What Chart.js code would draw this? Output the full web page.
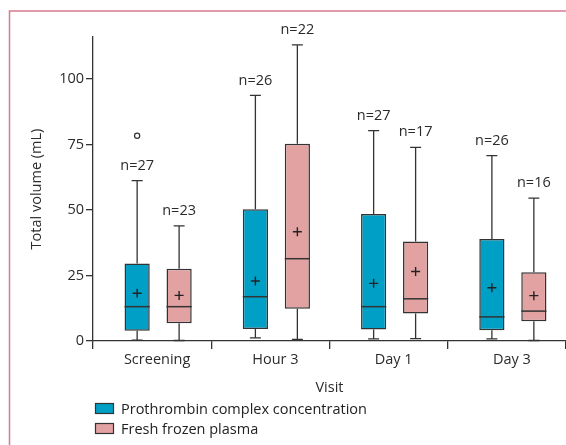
<!DOCTYPE html>
<html><head><meta charset="utf-8">
<script src="https://cdn.jsdelivr.net/npm/chart.js@4.4.1/dist/chart.umd.min.js"></script>
<style>html,body{margin:0;padding:0;background:#fff;}#wrap{width:566px;height:445px;position:relative;}</style>
</head><body><div id="wrap"><canvas id="c" width="566" height="445"></canvas></div>
<script>
// ---- data ----
const categories = ['Screening', 'Hour 3', 'Day 1', 'Day 3'];
const seriesNames = ['Prothrombin complex concentration', 'Fresh frozen plasma'];

const pccMin    = [0.3, 1.2, 0.8, 0.8];
const pccQ1     = [3.9, 4.6, 4.4, 4.1];
const pccMedian = [13.1, 16.9, 13.1, 9.2];
const pccQ3     = [29.6, 50.3, 48.5, 38.9];
const pccMax    = [61.2, 93.7, 80.3, 70.7];
const pccMean   = [18.2, 22.9, 22.0, 20.3];
const pccN      = [27, 26, 27, 26];
const pccOutliers = [[78.3], [], [], []];

const ffpMin    = [0.2, 0.6, 0.9, 0.2];
const ffpQ1     = [6.8, 12.3, 10.5, 7.5];
const ffpMedian = [13.1, 31.4, 16.1, 11.4];
const ffpQ3     = [27.6, 75.3, 38.0, 26.2];
const ffpMax    = [43.9, 113.0, 73.9, 54.5];
const ffpMean   = [17.4, 41.7, 26.5, 17.3];
const ffpN      = [23, 22, 17, 16];
const ffpOutliers = [[], [], [], []];

const yTicks = [0, 25, 50, 75, 100];

// ---- style ----
const FONT = "'Open Sans', sans-serif";
const TEXT = '#2b2b2b';
const EDGE = '#333333';
const BLUE = '#00a0c6';
const PINK = '#e3a2a2';
const FRAME = '#d97a90';
const SHIFT = 6;

const series = [
  {name: seriesNames[0], color: BLUE, min: pccMin, q1: pccQ1, med: pccMedian, q3: pccQ3, max: pccMax, mean: pccMean, n: pccN, out: pccOutliers},
  {name: seriesNames[1], color: PINK, min: ffpMin, q1: ffpQ1, med: ffpMedian, q3: ffpQ3, max: ffpMax, mean: ffpMean, n: ffpN, out: ffpOutliers}
];

const boxExtras = {
  id: 'boxExtras',
  beforeDatasetsDraw(chart) { chart.ctx.save(); chart.ctx.translate(SHIFT, 0); },
  afterDatasetsDraw(chart) {
    const ctx = chart.ctx, ys = chart.scales.y;
    ctx.strokeStyle = EDGE;
    series.forEach((s, d) => {
      const meta = chart.getDatasetMeta(d);
      meta.data.forEach((bar, i) => {
        const x = bar.x, w = bar.width;
        const pMin = ys.getPixelForValue(s.min[i]);
        const pMax = ys.getPixelForValue(s.max[i]);
        const pQ1 = ys.getPixelForValue(s.q1[i]);
        const pQ3 = ys.getPixelForValue(s.q3[i]);
        const pMed = ys.getPixelForValue(s.med[i]);
        const pMean = ys.getPixelForValue(s.mean[i]);
        ctx.strokeStyle = EDGE;
        ctx.lineWidth = 1.3;
        ctx.beginPath();
        ctx.moveTo(x, pQ3); ctx.lineTo(x, pMax);
        ctx.moveTo(x - 5.5, pMax); ctx.lineTo(x + 5.5, pMax);
        ctx.moveTo(x, pQ1); ctx.lineTo(x, pMin);
        ctx.moveTo(x - 5.5, pMin); ctx.lineTo(x + 5.5, pMin);
        ctx.stroke();
        ctx.lineWidth = 1.5;
        ctx.beginPath();
        ctx.moveTo(x - w / 2, pMed); ctx.lineTo(x + w / 2, pMed);
        ctx.stroke();
        ctx.lineWidth = 1.4;
        ctx.strokeStyle = '#222';
        ctx.beginPath();
        ctx.moveTo(x - 4.5, pMean); ctx.lineTo(x + 4.5, pMean);
        ctx.moveTo(x, pMean - 4.5); ctx.lineTo(x, pMean + 4.5);
        ctx.stroke();
        ctx.strokeStyle = EDGE;
        ctx.lineWidth = 1.2;
        s.out[i].forEach(v => {
          ctx.beginPath();
          ctx.arc(x, ys.getPixelForValue(v), 2.6, 0, Math.PI * 2);
          ctx.stroke();
        });
        ctx.fillStyle = TEXT;
        ctx.font = '14.5px ' + FONT;
        ctx.textAlign = 'center';
        ctx.textBaseline = 'middle';
        ctx.fillText('n=' + s.n[i], x, pMax - 15);
      });
    });
    ctx.restore();
  },
  afterDraw(chart) {
    const ctx = chart.ctx, a = chart.chartArea;
    ctx.save();
    // frame
    ctx.strokeStyle = FRAME;
    ctx.lineWidth = 1.5;
    ctx.beginPath();
    ctx.moveTo(9.5, 445); ctx.lineTo(9.5, 11); ctx.lineTo(566, 11);
    ctx.stroke();
    // legend
    ctx.font = '14.5px ' + FONT;
    ctx.textAlign = 'left';
    ctx.textBaseline = 'middle';
    series.forEach((s, k) => {
      const yy = 403 + k * 20;
      ctx.fillStyle = s.color;
      ctx.fillRect(a.left + 2, yy, 19, 11);
      ctx.strokeStyle = EDGE;
      ctx.lineWidth = 1.2;
      ctx.strokeRect(a.left + 2.5, yy + 0.5, 18, 10);
      ctx.fillStyle = '#222';
      ctx.fillText(s.name, a.left + 28, yy + 6.5);
    });
    ctx.restore();
  }
};

new Chart(document.getElementById('c'), {
  type: 'bar',
  data: {
    labels: categories,
    datasets: series.map(s => ({
      label: s.name,
      data: s.q1.map((q, i) => [q, s.q3[i]]),
      backgroundColor: s.color,
      borderColor: EDGE,
      borderWidth: 1.5,
      borderSkipped: false,
      categoryPercentage: 0.71,
      barPercentage: 0.6
    }))
  },
  options: {
    responsive: false,
    devicePixelRatio: 1,
    animation: false,
    layout: {padding: {top: 37, right: 0, bottom: 0, left: 0}},
    plugins: {legend: {display: false}, tooltip: {enabled: false}},
    scales: {
      x: {
        offset: true,
        afterFit(s) { s.height = 104; },
        border: {color: EDGE, width: 1.3},
        grid: {offset: true, drawOnChartArea: false, tickLength: 8, color: EDGE, lineWidth: 1.3},
        ticks: {color: TEXT, font: {family: FONT, size: 14.5}, padding: 2, labelOffset: 5, maxRotation: 0},
        title: {display: true, text: 'Visit', color: TEXT, font: {family: FONT, size: 14.5}, padding: {top: 0, bottom: 48}}
      },
      y: {
        min: 0, max: 116,
        afterFit(s) { s.width = 93; },
        afterBuildTicks(s) { s.ticks = yTicks.map(v => ({value: v})); },
        border: {color: EDGE, width: 1.3},
        grid: {drawOnChartArea: false, tickLength: 7, color: EDGE, lineWidth: 1.3},
        ticks: {color: TEXT, font: {family: FONT, size: 14.5}, padding: 2},
        title: {display: true, text: 'Total volume (mL)', color: TEXT, font: {family: FONT, size: 14.5}, padding: {top: 28.3, bottom: 0}}
      }
    }
  },
  plugins: [boxExtras]
});
</script></body></html>
